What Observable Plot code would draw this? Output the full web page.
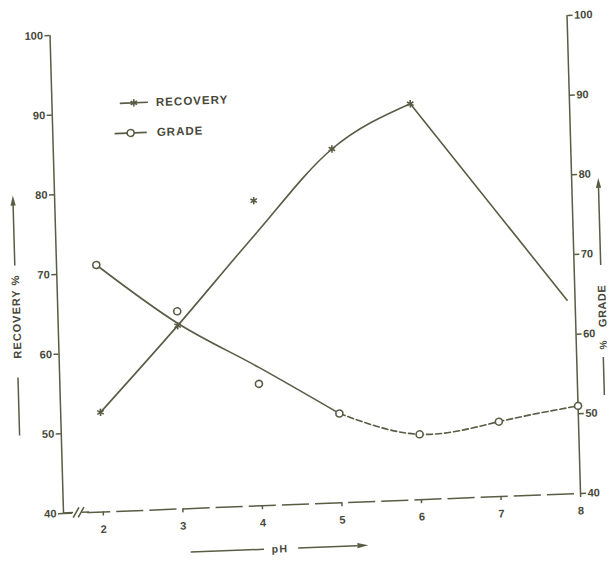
<!DOCTYPE html>
<html><head><meta charset="utf-8">
<script src="https://cdn.jsdelivr.net/npm/d3@7"></script>
<script src="https://cdn.jsdelivr.net/npm/@observablehq/plot@0.6"></script>
<style>
html,body{margin:0;padding:0;background:#fff;}
#chart{width:611px;height:561px;overflow:hidden;position:relative;}
#chart svg{transform-origin:63px 513px;transform:matrix(1.0039,-0.0388,0.02824,1,0,0);overflow:visible;}
</style></head><body><div id="chart"></div>
<script>
// ---- data ----
const xTicks = [2, 3, 4, 5, 6, 7, 8];
const yTicks = [40, 50, 60, 70, 80, 90, 100];
// measured points
const recoveryPh = [2, 3, 4, 5, 6];
const recovery = [52.5, 63.0, 78.3, 84.4, 89.7];
const gradePh = [2, 3, 4, 5, 6, 7, 8];
const grade = [71.0, 64.8, 55.3, 51.2, 48.2, 49.4, 51.0];
// hand-drawn fitted curves
const recoveryCurvePh = [2, 3, 4, 5, 6];
const recoveryCurve = [52.5, 63.0, 74.0, 84.4, 89.7];
const recoveryTailPh = [6, 7.9];
const recoveryTail = [89.7, 64.3];
const gradeCurvePh = [2, 3, 4, 5, 6, 7, 8];
const gradeCurve = [71.0, 63.3, 57.4, 51.2, 48.2, 49.4, 51.0];
const legendLabels = ["RECOVERY", "GRADE"];
const leftTitle = "RECOVERY %";
const rightTitle = "GRADE";
const rightUnit = "%";
const bottomTitle = "pH";

const ink = "#5a5c45";
const textInk = "#47483a";
const font = "Liberation Sans, Arial, sans-serif";

const pts = (xs, ys) => xs.map((x, i) => ({x, y: ys[i]}));
const recPts = pts(recoveryPh, recovery);
const gradePts = pts(gradePh, grade);
const recCurve = pts(recoveryCurvePh, recoveryCurve);
const recTail = pts(recoveryTailPh, recoveryTail);
const gCurve = pts(gradeCurvePh, gradeCurve);
const gSolid = gCurve.filter(d => d.x <= 5);
const gDashed = gCurve.filter(d => d.x >= 5);

function decorations(index, scales, values, dims) {
  const {marginLeft: ml, marginTop: mt, marginRight: mr, marginBottom: mb, width, height} = dims;
  const right = width - mr, bottom = height - mb;
  const g = d3.create("svg:g")
    .attr("font-family", font).attr("font-weight", "bold").attr("fill", textInk);
  const line = (x1, y1, x2, y2, w = 1.5) => g.append("line")
    .attr("x1", x1).attr("y1", y1).attr("x2", x2).attr("y2", y2)
    .attr("stroke", ink).attr("stroke-width", w);
  // axis break "//" on x axis
  const ox = scales.x(1.5), oy = scales.y(40);
  g.append("line").attr("x1", ox + 9).attr("x2", ox + 24).attr("y1", oy).attr("y2", oy)
    .attr("stroke", "#fff").attr("stroke-width", 4);
  line(ox, oy, ox + 10, oy);
  line(ox + 10, oy + 5, ox + 16, oy - 5, 1.6);
  line(ox + 15, oy + 5, ox + 21, oy - 5, 1.6);
  line(ox + 19, oy, ox + 26, oy);
  // legend
  const rows = [
    {y: mt + 71, x1: ml + 68, x2: ml + 96, sym: d3.symbolAsterisk, fill: "none"},
    {y: mt + 101, x1: ml + 62, x2: ml + 94, sym: d3.symbolCircle, fill: "#fff"}
  ];
  rows.forEach((r, i) => {
    line(r.x1, r.y, r.x2, r.y, 1.6);
    g.append("path").attr("d", d3.symbol(r.sym, 38)())
      .attr("transform", `translate(${(r.x1 + r.x2) / 2},${r.y})`)
      .attr("fill", r.fill).attr("stroke", ink).attr("stroke-width", 1.6);
    g.append("text").text(legendLabels[i])
      .attr("x", ml + 104).attr("y", r.y).attr("dy", "0.36em")
      .attr("text-anchor", "start")
      .attr("font-size", 11.5).attr("letter-spacing", 1);
  });
  const arrowUp = (x, y) => g.append("path")
    .attr("d", `M${x},${y} L${x - 2.6},${y + 10} L${x + 2.6},${y + 10} Z`).attr("fill", ink);
  // left title
  const lx = ml - 41;
  g.append("text").text(leftTitle)
    .attr("transform", `translate(${lx},315) rotate(-90)`)
    .attr("text-anchor", "middle").attr("dy", "0.36em")
    .attr("font-size", 11).attr("letter-spacing", 1);
  line(lx, 264, lx, 200);
  arrowUp(lx, 194);
  line(lx, 376, lx, 434);
  // right title
  const rx = right + 27;
  g.append("text").text(rightTitle)
    .attr("transform", `translate(${rx},327) rotate(-90)`)
    .attr("text-anchor", "middle").attr("dy", "0.36em")
    .attr("font-size", 11).attr("letter-spacing", 0.5);
  g.append("text").text(rightUnit)
    .attr("transform", `translate(${rx},366) rotate(-90)`)
    .attr("text-anchor", "middle").attr("dy", "0.36em")
    .attr("font-size", 10);
  line(rx, 286, rx, 206);
  arrowUp(rx, 199);
  line(rx, 378, rx, 416);
  // bottom title
  const by = 557;
  line(189, by, 262, by);
  g.append("text").text(bottomTitle)
    .attr("x", 278).attr("y", by).attr("dy", "0.36em")
    .attr("text-anchor", "middle").attr("font-size", 10.5).attr("letter-spacing", 1.5);
  line(296, by, 355, by);
  g.append("path").attr("d", `M366,${by} L355,${by - 2.6} L355,${by + 2.6} Z`).attr("fill", ink);
  return g.node();
}

const chart = Plot.plot({
  width: 611,
  height: 561,
  marginLeft: 63,
  marginRight: 33,
  marginTop: 35,
  marginBottom: 48,
  style: {fontFamily: font, fontWeight: "bold", fontSize: "11px", color: textInk, background: "#fff", overflow: "visible"},
  x: {domain: [1.5, 8]},
  y: {domain: [40, 100]},
  marks: [
    Plot.ruleY([40], {stroke: ink, strokeWidth: 1.5, strokeDasharray: "27,6", strokeDashoffset: -20}),
    Plot.ruleX([1.5], {stroke: ink, strokeWidth: 1.5}),
    Plot.ruleX([8], {stroke: ink, strokeWidth: 1.5}),
    Plot.axisY(yTicks, {anchor: "left", label: null, tickSize: 5, tickPadding: 2, stroke: ink, fill: textInk, strokeWidth: 1.5}),
    Plot.axisY(yTicks, {anchor: "right", label: null, tickSize: 5, tickPadding: 2, stroke: ink, fill: textInk, strokeWidth: 1.5}),
    Plot.axisX(xTicks, {anchor: "bottom", label: null, tickSize: 4, tickPadding: 9, stroke: ink, fill: textInk, strokeWidth: 1.5}),
    Plot.line(recCurve, {x: "x", y: "y", curve: "monotone-x", stroke: ink, strokeWidth: 1.6}),
    Plot.line(recTail, {x: "x", y: "y", stroke: ink, strokeWidth: 1.6}),
    Plot.line(gSolid, {x: "x", y: "y", curve: "monotone-x", stroke: ink, strokeWidth: 1.6}),
    Plot.line(gDashed, {x: "x", y: "y", curve: "natural", stroke: ink, strokeWidth: 1.6, strokeDasharray: "6,3"}),
    Plot.dot(recPts, {x: "x", y: "y", symbol: "asterisk", r: 3.5, stroke: ink, strokeWidth: 1.6}),
    Plot.dot(gradePts, {x: "x", y: "y", symbol: "circle", r: 3.5, fill: "#fff", stroke: ink, strokeWidth: 1.6}),
    decorations
  ]
});
document.getElementById("chart").append(chart);
</script>
</body></html>
